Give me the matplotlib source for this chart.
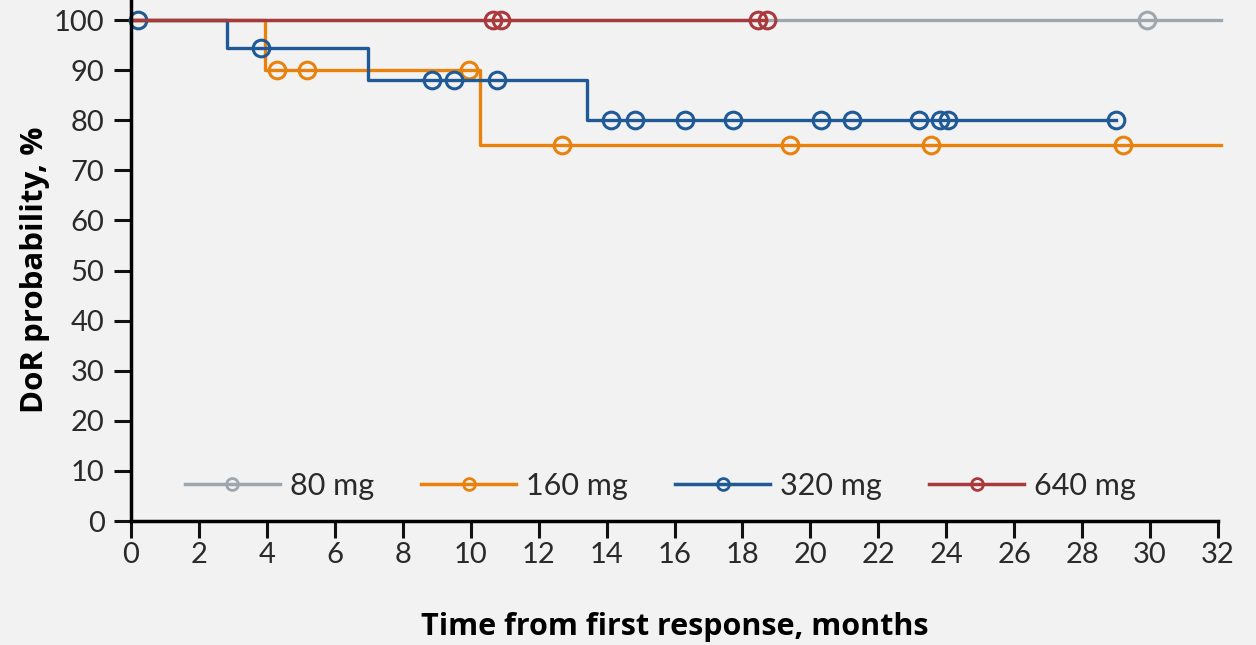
import numpy as np
import matplotlib.pyplot as plt
from matplotlib.lines import Line2D

plt.rcParams['font.family'] = ['Lato', 'DejaVu Sans']

labels = ["80 mg", "160 mg", "320 mg", "640 mg"]
colors = ["#9EA7AE", "#E8820C", "#1F5A96", "#A83A3E"]

# step curves: time where each level starts, and the level
t_80 = [0, 32.1]
s_80 = [100, 100]
c_80 = [29.9]

t_160 = [0, 3.94, 10.27, 32.1]
s_160 = [100, 90, 75, 75]
c_160 = [4.3, 5.18, 9.95, 12.68, 19.4, 23.55, 29.2]

t_320 = [0, 2.83, 6.98, 13.43, 29.0]
s_320 = [100, 94.4, 88.0, 80, 80]
c_320 = [0.2, 3.83, 8.86, 9.5, 10.77, 14.13, 14.84, 16.3, 17.73,
         20.3, 21.23, 23.2, 23.8, 24.05, 29.0]

t_640 = [0, 18.7]
s_640 = [100, 100]
c_640 = [10.66, 10.9, 18.46, 18.72]

curves = [(t_80, s_80, c_80), (t_160, s_160, c_160),
          (t_320, s_320, c_320), (t_640, s_640, c_640)]


def level_at(t, s, x):
    idx = np.searchsorted(t, x, side='right') - 1
    return np.array(s)[idx]


fig = plt.figure(figsize=(12.56, 6.45), dpi=100)
fig.patch.set_facecolor("#F2F2F2")
ax = fig.add_axes([0.1043, 0.1922, 0.8655, 0.8078])
ax.set_facecolor("#F2F2F2")

for (t, s, c), col in zip(curves, colors):
    ax.step(t, s, where='post', color=col, lw=2.4, clip_on=False)
    ax.plot(c, level_at(t, s, c), 'o', ms=12, mfc='none', mec=col,
            mew=2.2, clip_on=False)

ax.set_xlim(0, 32)
ax.set_ylim(0, 104)
ax.set_xticks(np.arange(0, 33, 2))
ax.set_yticks(np.arange(0, 101, 10))
for sp in ['top', 'right']:
    ax.spines[sp].set_visible(False)
for sp in ['left', 'bottom']:
    ax.spines[sp].set_linewidth(2.5)
ax.tick_params(direction='out', length=12, width=2.2, labelsize=21,
               pad=7, colors='#111111', labelcolor='#2a2a2a')
ax.tick_params(axis='x', pad=3)

ax.set_ylabel("DoR probability, %", fontsize=22.5, fontweight='bold',
              family=['Open Sans', 'DejaVu Sans'])
ax.yaxis.set_label_coords(-0.0745, 0.482)
ax.set_xlabel("Time from first response, months", fontsize=22,
              fontweight='bold', family=['Open Sans', 'DejaVu Sans'],
              labelpad=32)

handles = [Line2D([], [], color=col, lw=2.5, marker='o', ms=8.5, mfc='none',
                  mec=col, mew=2) for col in colors]
leg = ax.legend(handles, labels, loc='center', bbox_to_anchor=(0.487, 0.067),
                ncol=4, frameon=False, fontsize=22, handlelength=3.1,
                handletextpad=0.33, columnspacing=1.55)
for txt in leg.get_texts():
    txt.set_color('#2a2a2a')

fig.savefig("out.png", dpi=100, facecolor=fig.get_facecolor())
